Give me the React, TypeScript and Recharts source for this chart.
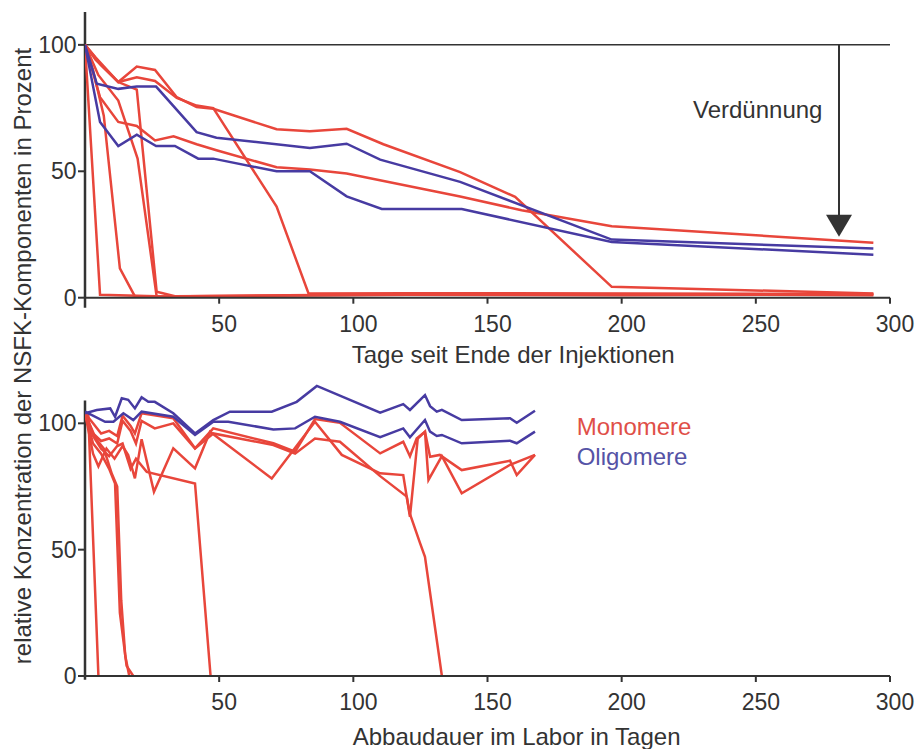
import React from 'react';
import { LineChart, Line, XAxis, YAxis, ReferenceLine, ReferenceDot } from 'recharts';

type P = [number, number];

// ---------- tick labels ----------
const xTicks = [50, 100, 150, 200, 250, 300];
const yTicks = [0, 50, 100];

// ---------- top chart: days since end of injections ----------
const topOligoA: P[] = [[0, 100], [4.4, 84.6], [12.4, 82.6], [19.3, 83.5], [26.5, 83.5], [41.6, 65.5], [49, 63.3], [83.8, 59.2], [97.5, 60.9], [110, 54.6], [139.8, 45.8], [196.3, 23], [293.8, 19.5]];
const topOligoB: P[] = [[0, 100], [5.6, 69.5], [12.4, 60], [19.3, 64.5], [26.5, 60], [33.5, 60], [42.2, 55], [47.8, 55], [71.4, 50], [83.8, 50], [97.5, 40.1], [110.6, 35.1], [140.4, 35.1], [196.3, 22], [293.8, 17]];
const topMonoA: P[] = [[0, 100], [4, 94], [12.4, 85.3], [19.3, 91.4], [26.1, 90.1], [34.2, 79.3], [41.6, 75.4], [47.8, 74.7], [71.4, 66.6], [83.8, 65.8], [97.5, 66.8], [111.2, 60.7], [139.8, 49.7], [160.3, 39.9], [196.3, 4.3], [293.8, 1.7]];
const topMonoB: P[] = [[0, 100], [5.6, 79.3], [12.4, 69.5], [19.3, 67.9], [26.1, 62.2], [33, 63.8], [41.6, 60.7], [49, 58.3], [71.4, 51.6], [83.8, 50.7], [97.5, 49.1], [139.8, 40], [162.7, 34.6], [196.3, 28.3], [293.8, 21.7]];
const topMonoC: P[] = [[0, 100], [4, 95], [12.4, 85.3], [19.3, 87.2], [26.1, 85.7], [34.2, 79], [41.6, 76], [47.8, 75], [71.4, 36], [83.3, 1.7], [120, 1.8], [293.8, 1.5]];
const topMonoD: P[] = [[0, 100], [6, 92], [12.4, 85.3], [19.3, 82.3], [26.7, 2.4], [33.5, 0.6], [100, 1], [150, 1.5], [293.8, 1]];
const topMonoE: P[] = [[0, 100], [5, 88], [12.4, 78], [19.6, 55], [26.7, 0.5], [40, 0.4]];
const topMonoF: P[] = [[0, 100], [3, 90], [7, 72], [13, 11.6], [18.6, 0.5], [60, 0.3]];
const topMonoG: P[] = [[0, 100], [5.6, 1.2], [30, 0.5], [100, 1.2], [200, 1], [293.8, 1.3]];

// ---------- bottom chart: days of lab degradation ----------
const botOligoA: P[] = [[0, 104], [4.4, 105.3], [9.4, 105.9], [11.2, 102.6], [13.7, 109.9], [16.1, 109.3], [18.6, 105.9], [21.1, 110.3], [23.6, 108.5], [26, 108.5], [32.9, 104], [41, 96], [47.8, 101.3], [54, 104.6], [69.6, 104.6], [78.9, 108.5], [86.4, 114.8], [110, 104.2], [118.6, 107.6], [121.1, 105.3], [126.7, 111.2], [128.6, 106.8], [131.1, 104.6], [133, 105.3], [140.4, 101.3], [158.4, 102], [160.9, 100.2], [167.7, 105]];
const botOligoB: P[] = [[0, 104.6], [7.5, 100.6], [10.6, 100.6], [14.3, 104], [18, 101.3], [21.1, 104.6], [32.9, 102.6], [41, 95.4], [47.8, 100.6], [53.4, 100.6], [70.2, 97.6], [78.3, 98], [85.7, 102.6], [95, 100.6], [110, 94.5], [118.6, 98], [121.1, 94.5], [126.7, 101.3], [128.6, 96.7], [131.1, 95], [133, 95.4], [140.4, 92.1], [158.4, 93.1], [160.9, 92.1], [167.7, 96.7]];
const botMonoA: P[] = [[0, 104], [3, 100], [6, 96], [9, 97], [12, 95], [14, 103], [17, 99], [18.6, 96], [21.1, 104], [32.9, 102], [41, 90.1], [47.8, 98], [70.2, 92.1], [78.3, 88.8], [85.7, 101.7], [95, 100.2], [110, 88.1], [118.6, 92.7], [121.1, 87], [123.6, 94], [126.7, 96.7], [128.6, 86.8], [132.2, 87.5], [140.4, 81.5], [158.4, 85.2], [160.9, 79.5], [167.7, 87.5]];
const botMonoB: P[] = [[0, 104], [3, 88], [5, 83], [8, 90], [11, 86], [14, 91], [16.1, 87.5], [18.6, 78.2], [21.1, 93.7], [25.7, 72.9], [32.9, 90.1], [41, 82.2], [46.6, 96.7], [69.6, 78.2], [85.7, 100.6], [95.7, 87.5], [110, 80.2], [118.6, 79.5], [121.1, 63], [124, 94], [126.7, 96.7], [128, 77.6], [133, 87], [140.4, 72.3], [158.4, 83.6], [167.7, 87.5]];
const botMonoC: P[] = [[0, 104], [3, 96], [6, 93], [9, 94], [12, 92], [14, 101], [17, 97], [19, 92], [21.1, 101], [26, 98], [32.9, 100], [41, 90], [47.8, 96], [70.2, 91.4], [78.3, 88], [85.7, 94], [95, 92.7], [110, 79.1], [119.9, 71], [121, 64.4], [124.9, 52.5], [126.7, 47.2], [133, 0]];
const botMonoD: P[] = [[0, 104], [1.2, 104], [5, 0]];
const botMonoE: P[] = [[0, 104], [3, 92], [6, 88], [9, 82], [11.2, 76.2], [13, 25], [15.5, 4], [18, 0]];
const botMonoF: P[] = [[0, 104], [4, 94], [7, 90], [10, 80], [12, 75], [13.5, 30], [15, 8], [16.5, 0]];
const botMonoG: P[] = [[0, 104], [3, 95], [6, 90], [9, 87], [12, 91], [14, 92], [17, 82], [19, 86], [23, 80.8], [41, 76.2], [46.8, 0]];

const topMono = [topMonoA, topMonoB, topMonoC, topMonoD, topMonoE, topMonoF, topMonoG];
const topOligo = [topOligoA, topOligoB];
const botMono = [botMonoA, botMonoB, botMonoC, botMonoD, botMonoE, botMonoF, botMonoG];
const botOligo = [botOligoA, botOligoB];

const RED = '#e8463b';
const BLUE = '#473ba2';
const INK = '#333333';
const FONT = '"Liberation Sans", Arial, Helvetica, sans-serif';

const toPts = (a: P[]) => a.map(([x, y]) => ({ x, y }));

const XTick = (props: any) => {
  const { x, y, payload } = props;
  return (
    <text x={x + 5} y={y + 18} textAnchor="middle" dominantBaseline="central" fontSize={23} fill={INK} fontFamily={FONT}>
      {payload.value}
    </text>
  );
};

const YTick = (props: any) => {
  const { x, y, payload } = props;
  return (
    <text x={x} y={y} textAnchor="end" dominantBaseline="central" fontSize={23} fill={INK} fontFamily={FONT}>
      {payload.value}
    </text>
  );
};

const Arrowhead = (props: any) => {
  const { cx, cy } = props;
  return <path d={`M${cx},${cy} L${cx - 13},${cy - 22} L${cx + 13},${cy - 22} Z`} fill={INK} />;
};

const txt = (left: number, cy: number, color: string, content: string, size = 24): React.ReactNode => (
  <div
    style={{
      position: 'absolute',
      left,
      top: cy,
      transform: 'translateY(-50%)',
      fontFamily: FONT,
      fontSize: size,
      lineHeight: 1,
      color,
      whiteSpace: 'nowrap',
    }}
  >
    {content}
  </div>
);

function renderLines(mono: P[][], oligo: P[][], prefix: string) {
  return [
    ...mono.map((s, i) => (
      <Line key={`${prefix}m${i}`} data={toPts(s)} dataKey="y" type="linear" stroke={RED} strokeWidth={2.5} dot={false} isAnimationActive={false} />
    )),
    ...oligo.map((s, i) => (
      <Line key={`${prefix}o${i}`} data={toPts(s)} dataKey="y" type="linear" stroke={BLUE} strokeWidth={2.5} dot={false} isAnimationActive={false} />
    )),
  ];
}

export default function App() {
  return (
    <div style={{ position: 'absolute', left: 0, top: 0, width: 915, height: 749, overflow: 'hidden', background: '#fff' }}>
      <div style={{ position: 'absolute', left: 0, top: 0 }}>
        <LineChart width={915} height={370} margin={{ top: 12, right: 25, left: 0, bottom: 32.3 }}>
          <XAxis type="number" dataKey="x" domain={[0, 300]} ticks={xTicks} allowDataOverflow tick={<XTick />} tickSize={6} height={40}
            axisLine={{ stroke: INK, strokeWidth: 2 }} tickLine={{ stroke: INK, strokeWidth: 2 }} />
          <YAxis type="number" domain={[0, 113]} ticks={yTicks} allowDataOverflow tick={<YTick />} tickSize={7} tickMargin={1.5} width={85}
            axisLine={false} tickLine={{ stroke: INK, strokeWidth: 2 }} />
          <ReferenceLine segment={[{ x: 0, y: -4 }, { x: 0, y: 113 }]} stroke={INK} strokeWidth={2.5} ifOverflow="visible" />
          <ReferenceLine y={100} stroke={INK} strokeWidth={1.5} />
          {renderLines(topMono, topOligo, 't')}
          <ReferenceLine segment={[{ x: 281, y: 100 }, { x: 281, y: 30 }]} stroke={INK} strokeWidth={2} />
          <ReferenceDot x={281} y={24.1} r={0} shape={<Arrowhead />} ifOverflow="visible" />
        </LineChart>
      </div>
      <div style={{ position: 'absolute', left: 0, top: 370 }}>
        <LineChart width={915} height={379} margin={{ top: 12.9, right: 25, left: 0, bottom: 33 }}>
          <XAxis type="number" dataKey="x" domain={[0, 300]} ticks={xTicks} allowDataOverflow tick={<XTick />} tickSize={6} height={40}
            axisLine={{ stroke: INK, strokeWidth: 2 }} tickLine={{ stroke: INK, strokeWidth: 2 }} />
          <YAxis type="number" domain={[0, 116]} ticks={yTicks} allowDataOverflow tick={<YTick />} tickSize={7} tickMargin={1.5} width={85}
            axisLine={false} tickLine={{ stroke: INK, strokeWidth: 2 }} />
          <ReferenceLine segment={[{ x: 0, y: -1.5 }, { x: 0, y: 109 }]} stroke={INK} strokeWidth={2.5} ifOverflow="visible" />
          {renderLines(botMono, botOligo, 'b')}
        </LineChart>
      </div>

      {txt(351.7, 355, INK, 'Tage seit Ende der Injektionen')}
      {txt(352.7, 736.7, INK, 'Abbaudauer im Labor in Tagen')}
      {txt(693, 110, INK, 'Verdünnung')}
      {txt(576.7, 426.7, '#df4f48', 'Monomere')}
      {txt(576.7, 457.3, '#5553a6', 'Oligomere')}
      <div
        style={{
          position: 'absolute',
          left: 23,
          top: 356,
          transform: 'translate(-50%, -50%) rotate(-90deg)',
          fontFamily: FONT,
          fontSize: 24,
          lineHeight: 1,
          color: INK,
          whiteSpace: 'nowrap',
        }}
      >
        relative Konzentration der NSFK-Komponenten in Prozent
      </div>
    </div>
  );
}
